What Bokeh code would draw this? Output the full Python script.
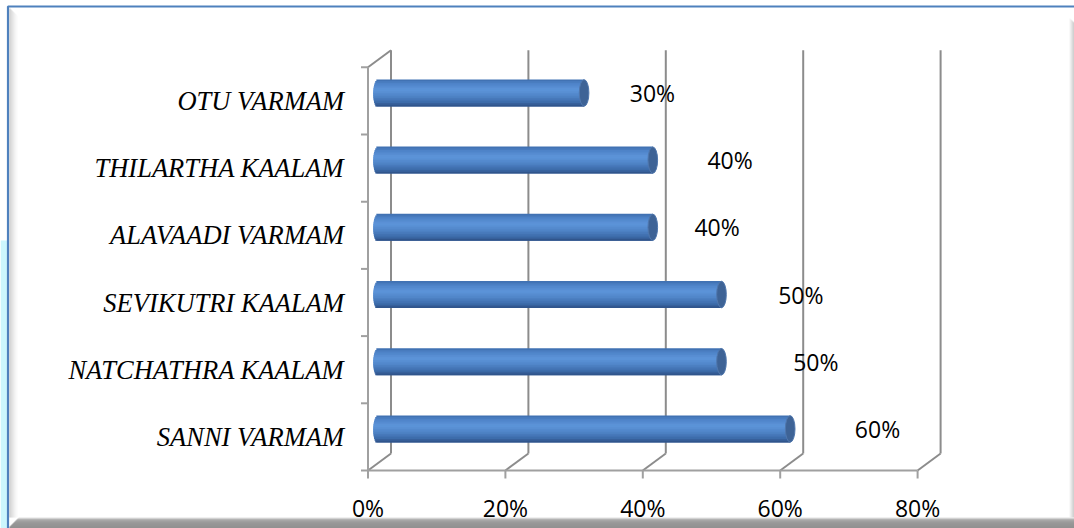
import math

from bokeh.core.properties import value
from bokeh.embed import file_html
from bokeh.models import ColumnDataSource, Range1d
from bokeh.plotting import figure
from bokeh.resources import INLINE

# ---- data -------------------------------------------------------------
categories = [
    "SANNI VARMAM",
    "NATCHATHRA KAALAM",
    "SEVIKUTRI KAALAM",
    "ALAVAADI VARMAM",
    "THILARTHA KAALAM",
    "OTU VARMAM",
]
shares = [0.60, 0.50, 0.50, 0.40, 0.40, 0.30]
tick_values = [0.0, 0.2, 0.4, 0.6, 0.8]
tick_labels = ["0%", "20%", "40%", "60%", "80%"]

# ---- layout -----------------------------------------------------------
W, H = 1074, 528
X0 = 367.5      # pixel column of 0 %
XS = 687.0      # pixels per 100 %
YB = 470.0      # pixel row of the floor's front edge
YS = 67.2       # pixels per category slot

DX, DY = 23 / XS, 17 / YS    # depth of the 3-D box (back wall offset)
BX, BY = 10 / XS, 8 / YS     # cylinders sit half way into the box
BH = 27 / YS                 # cylinder diameter
RX = 4.8 / XS                # half width of the elliptical ends

LABEL_GAP = 0.13             # data labels sit beyond the bar end
label_nudge_px = [8, 15, 0, -15, -2, -11]

GRID = "#8c8c8c"
AXIS = "#a0a0a0"
NUM_FONT = value("Open Sans")


def px(xp):
    return (xp - X0) / XS


def py(yp):
    return -0.5 + (YB - yp) / YS


p = figure(
    width=W,
    height=H,
    x_range=Range1d(px(0), px(W)),
    y_range=Range1d(py(H), py(0)),
    x_axis_type=None,
    y_axis_type=None,
    min_border=0,
    toolbar_location=None,
    output_backend="svg",
    background_fill_color="white",
    border_fill_color="white",
    outline_line_color=None,
)
p.grid.visible = False

# ---- chart-area frame: bevel and border --------------------------------
p.quad(left=px(0), right=px(6.5), bottom=py(H), top=py(240),
       fill_color="#ccf6fd", line_color=None)

# left bevel
shades_left = ["#c4c4c4", "#cdcdcd", "#d6d6d6", "#dedede", "#e6e6e6",
               "#eeeeee", "#f4f4f4", "#f9f9f9"]
for k, c in enumerate(shades_left):
    p.quad(left=px(9 + k), right=px(10 + k), bottom=py(517), top=py(8 + k),
           fill_color=c, line_color=None)

# right bevel
shades_right = ["#f4f4f4", "#e6e6e6", "#d8d8d8", "#cacaca", "#bdbdbd"]
for k, c in enumerate(shades_right):
    p.quad(left=px(1069 + k), right=px(1070 + k), bottom=py(517),
           top=py(18 + k), fill_color=c, line_color=None)

# bottom band
shades_bottom = ["#e2e2e2", "#b4b4b4", "#8e8e8e", "#858585", "#7d7d7d",
                 "#787878", "#747474", "#727272", "#707070", "#6e6e6e",
                 "#6c6c6c", "#6b6b6b"]
for k, c in enumerate(shades_bottom):
    p.quad(left=px(9 + max(0, 9 - k)), right=px(W), bottom=py(517 + k + 1),
           top=py(517 + k), fill_color=c, line_color=None)

# blue outline
p.line(x=[px(7.5), px(7.5), px(W)], y=[py(H), py(6), py(6)],
       line_color="#4f81bd", line_width=2.2)

# ---- 3-D box: back wall gridlines, floor and side wall -----------------
floor = -0.5
ceiling = len(categories) - 0.5

p.segment(x0=[t + DX for t in tick_values], y0=[floor + DY] * len(tick_values),
          x1=[t + DX for t in tick_values], y1=[ceiling + DY] * len(tick_values),
          line_color=GRID, line_width=2)
p.segment(x0=tick_values, y0=[floor] * len(tick_values),
          x1=[t + DX for t in tick_values], y1=[floor + DY] * len(tick_values),
          line_color=GRID, line_width=2)
# side wall top edge
p.segment(x0=[0], y0=[ceiling], x1=[DX], y1=[ceiling + DY],
          line_color=GRID, line_width=2)

# front value axis with its ticks
p.line(x=[tick_values[0], tick_values[-1]], y=[floor, floor],
       line_color=AXIS, line_width=2)
p.segment(x0=tick_values, y0=[floor] * len(tick_values),
          x1=tick_values, y1=[floor - 8 / YS] * len(tick_values),
          line_color=AXIS, line_width=2)

# front category axis with its ticks between the slots
p.line(x=[0, 0], y=[floor, ceiling], line_color=AXIS, line_width=2)
bounds = [k - 0.5 for k in range(len(categories) + 1)]
p.segment(x0=[0] * len(bounds), y0=bounds, x1=[-7 / XS] * len(bounds),
          y1=bounds, line_color=AXIS, line_width=2)

# ---- cylinders --------------------------------------------------------
shade_stops = [
    (0.00, (0x3d, 0x6d, 0xae)),
    (0.15, (0x4e, 0x83, 0xc7)),
    (0.38, (0x5d, 0x95, 0xda)),
    (0.62, (0x4f, 0x84, 0xc7)),
    (0.85, (0x3d, 0x6b, 0xa9)),
    (1.00, (0x2c, 0x4f, 0x84)),
]


def shade(s):
    for (s0, c0), (s1, c1) in zip(shade_stops, shade_stops[1:]):
        if s <= s1:
            f = (s - s0) / (s1 - s0)
            return "#%02x%02x%02x" % tuple(
                round(a + (b - a) * f) for a, b in zip(c0, c1))
    return "#%02x%02x%02x" % shade_stops[-1][1]


# each band runs from its own top edge two band-heights down, so the
# following band overlaps it and no light seams show between them
N = 16
hb = BH / N
band = dict(top=[], bottom=[], left=[], right=[], color=[])
for i, v in enumerate(shares):
    yc = i + BY
    for j in range(N):
        s = (j + 0.5) / N
        u = 1 - 2 * s
        top = yc + BH / 2 - j * hb
        band["top"].append(top)
        band["bottom"].append(max(top - 2 * hb, yc - BH / 2))
        band["left"].append(BX - RX * math.sqrt(max(0.0, 1 - u * u)))
        band["right"].append(v + BX)
        band["color"].append(shade(s))

p.quad(top="top", bottom="bottom", left="left", right="right",
       fill_color="color", line_color=None, source=ColumnDataSource(band))

caps = ColumnDataSource(dict(
    x=[v + BX for v in shares],
    y=[i + BY for i in range(len(shares))],
))
p.ellipse(x="x", y="y", width=2 * RX, height=BH * 0.98, source=caps,
          fill_color="#3e6396", line_color="#5077ad", line_width=1)

# ---- texts ------------------------------------------------------------
p.text(x=[-24 / XS] * len(categories), y=list(range(len(categories))),
       text=categories, text_font=value("Liberation Serif"),
       text_font_style="italic", text_font_size="26.5px",
       text_align="right", text_baseline="middle", text_color="black")

p.text(x=tick_values, y=[floor - 37.5 / YS] * len(tick_values),
       text=tick_labels, text_font=NUM_FONT, text_font_size="23px",
       text_align="center", text_baseline="middle", text_color="black")

labels = ColumnDataSource(dict(
    x=[v + LABEL_GAP for v in shares],
    y=[i + BY for i in range(len(shares))],
    text=["%d%%" % round(v * 100) for v in shares],
    dx=label_nudge_px,
))
p.text(x="x", y="y", text="text", x_offset="dx", source=labels,
       text_font=NUM_FONT, text_font_size="23px",
       text_align="center", text_baseline="middle", text_color="black")

open("out.html", "w").write(file_html(p, INLINE))
